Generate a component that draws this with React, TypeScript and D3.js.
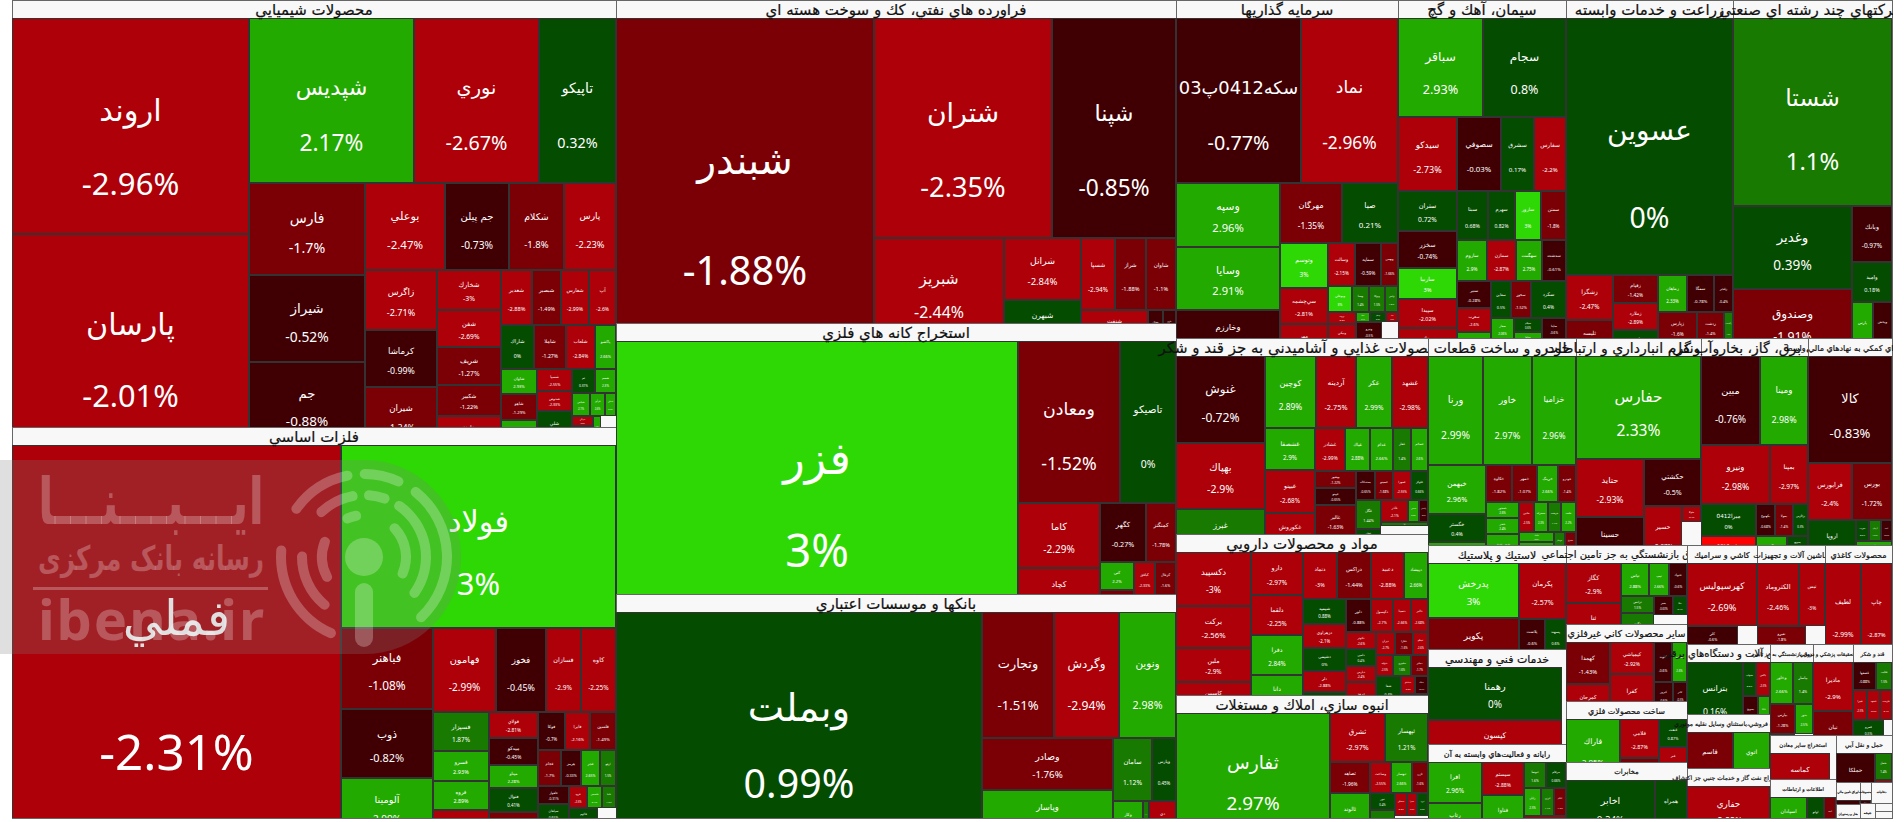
import React from 'react';
import * as d3 from 'd3';

type Row = [string, number | null, number];

const chemicals: Row[] = [
  ['اروند', -2.96, 51200], ['پارسان', -2.01, 50000],
  ['شپديس', 2.17, 27200], ['نوري', -2.67, 20600], ['تاپيكو', 0.32, 12700],
  ['فارس', -1.7, 10560], ['شيراز', -0.52, 10090], ['جم', -0.88, 9630],
  ['بوعلي', -2.47, 6880], ['جم پيلن', -0.73, 5500], ['شكلام', -1.8, 4820], ['پارس', -2.23, 4470],
  ['زاگرس', -2.71, 4260], ['كرماشا', -0.99, 4050], ['شيران', -1.24, 4120],
  ['شخارك', -3, 2560], ['شفن', -2.69, 2370], ['شريف', -1.27, 2430], ['شكبير', -1.22, 1980], ['خلوند', -2.5, 1860],
  ['شغدير', -2.88, 1730], ['شبصير', -1.49, 1560], ['شفارس', -2.99, 1560], ['آپ', -2.6, 1460],
  ['شاراك', 0, 1460], ['شاملا', -1.27, 1380], ['شلعاب', -2.84, 1290], ['پاكشو', 2.66, 900],
  ['شاوان', 2.93, 910], ['شاهو', -1.29, 910], ['شصفها', 2.5, 910],
  ['شسپا', -2.55, 800], ['شدوص', -2.33, 700], ['شلي', 0.4, 1190],
  ['ثم', 0.31, 570], ['شسم', 2.3, 520], ['شپاس', 2.1, 430],
  ['فرآور', 2.6, 340], ['شملي', 2.7, 250], ['شرنگي', -2.2, 190],
  ['كلر', 2.4, 400], ['شجم', 2.2, 250], ['', null, 420],
];
const basicMetals: Row[] = [
  ['فملي', -2.31, 128200], ['فولاد', 3, 49950],
  ['فباهنر', -1.08, 7380], ['ذوب', -0.82, 6210], ['آلومينا', 2.99, 5310],
  ['فهامون', -2.99, 5310], ['فخوز', -0.45, 4150], ['فسازان', -2.9, 3000], ['كاوه', -2.25, 2900],
  ['فسپزار', 1.87, 2200], ['فسرو', 2.93, 1650], ['فروه', 2.89, 1650], ['فسرب', -2.4, 1430],
  ['فولاي', -2.81, 1300], ['ميدكو', -0.45, 1300], ['ميناو', 2.28, 1150], ['فنوال', 0.41, 1150], ['فجهان', -1.5, 1200],
  ['فوكا', -0.7, 1010], ['فايرا', -2.16, 970], ['فلسين', -1.49, 970],
  ['فجام', -1.7, 820], ['هرمز', -0.33, 710], ['فجر', 2.65, 680], ['ارفع', 1.5, 580],
  ['فاهواز', -0.31, 560], ['سپاهان', 0.65, 560],
  ['فنرژي', 0.2, 410], ['فرود', -2.5, 390], ['فاسمين', 2.4, 310], ['فاما', 1.9, 310],
  ['فالوم', 0.6, 500], ['فزرين', -2.4, 330], ['', null, 500],
];
const refinery: Row[] = [
  ['شبندر', -1.88, 83300], ['شتران', -2.35, 39200], ['شپنا', -0.85, 27300],
  ['شبريز', -2.44, 13400], ['شرانل', -2.84, 4770], ['شبهرن', 0.5, 3160],
  ['شسپا', -2.94, 2380], ['شراز', -1.88, 2230], ['شاوان', -1.1, 2160],
  ['شنفت', -2.6, 2080], ['نفتال', -0.4, 465], ['پترو', -0.6, 400],
];
const metalMining: Row[] = [
  ['فزر', 3, 108900], ['ومعادن', -1.52, 16500], ['تاصيكو', 0, 9070],
  ['كاما', -2.29, 5330], ['كچاد', -2.5, 3600], ['كگهر', -0.27, 2710], ['كمنگنز', -1.78, 1770],
  ['كني', 2.2, 950], ['كروي', -1.5, 750], ['كبافق', -2.33, 700], ['كزغال', -1.6, 700],
  ['كروميت', -2.2, 360], ['كترام', -0.5, 354],
];
const banks: Row[] = [
  ['وبملت', 0.99, 82000], ['وتجارت', -1.51, 9070], ['وگردش', -2.94, 8200], ['ونوين', 2.98, 7180],
  ['وصادر', -1.76, 6800], ['وپاسار', 2.99, 6030], ['سامان', 1.12, 2460], ['وپارس', 0.45, 1510],
  ['وكار', 2.6, 1060], ['وسينا', 1.9, 200], ['دي', -2.4, 945],
];
const investment: Row[] = [
  ['سكه0412پ03', -0.77, 20460], ['نماد', -2.96, 16000],
  ['وسپه', 2.96, 6590], ['وسايا', 2.91, 6490], ['وخارزم', -0.6, 4740],
  ['مهرگان', -1.35, 3660], ['صبا', 0.21, 3300],
  ['وتوسم', 3, 2200], ['سي‌چشمه', -2.81, 1730], ['مهر', -2.4, 1540],
  ['وسالت', -2.15, 1120], ['سمايه', -0.59, 1120], ['وبهمن', -1.66, 730],
  ['وبوعلي', 3, 620], ['وسنا', 1.4, 420], ['وتوكا', 1.5, 420], ['وامين', 1.2, 340],
  ['ثروت', -2.2, 350], ['ونيكي', -2.6, 640],
  ['سرچشمه', -0.4, 240], ['اعتلا', 2.1, 140], ['ومعلم', 0.3, 155], ['گوهر', -2.5, 125],
  ['ونيرو', -0.5, 510], ['سبحان', 0.4, 350], ['', null, 550],
];
const cement: Row[] = [
  ['سباقر', 2.93, 8410], ['سجام', 0.8, 8220],
  ['سيدكو', -2.73, 4370], ['سصوفي', -0.03, 3260], ['سشرق', 0.17, 2500], ['سفارس', -2.2, 2370],
  ['ستران', 0.72, 2360], ['سخزر', -0.74, 2180], ['ساربيا', 3, 1830], ['سپيدا', -2.02, 1710], ['سفانو', -2.4, 1650],
  ['سبتا', 0.68, 1520], ['سهرم', 0.82, 1320], ['سارور', 3, 1270], ['سمتن', -1.8, 1220],
  ['ساروم', 2.9, 1230], ['سمازن', -2.87, 1190], ['سهگمت', 2.75, 1070], ['سدشت', -0.61, 980],
  ['سنير', -0.28, 920], ['سغرب', -2.6, 820], ['سكرما', 2.2, 820],
  ['سقاين', 0.5, 740], ['سخوز', -1.52, 740], ['سكرد', 0.4, 1300],
  ['سفار', 2.06, 510], ['ساوه', 1.5, 370],
  ['سيلام', 0.6, 390], ['سپاها', 2.8, 370], ['سكارون', -0.4, 310], ['ساينا', -0.6, 500], ['سدور', 0.3, 410],
];
const farming: Row[] = [
  ['عسوين', 0, 42900], ['زشگزا', -2.47, 2115], ['ثليسه', -1.8, 1690],
  ['زقيام', -1.42, 1260], ['زملارد', -2.89, 1215], ['زكشت', 0.4, 1170],
  ['زماهان', 2.33, 1070], ['سمگا', -0.78, 1000], ['زفجر', -0.4, 700],
  ['زپارس', -1.6, 1230], ['زشريف', -0.5, 480], ['زدشت', -1.4, 840], ['زگلدشت', 1.5, 290], ['', null, 460],
];
const multiIndustry: Row[] = [
  ['شستا', 1.1, 29900], ['وغدير', 0.39, 9880], ['وصندوق', -1.91, 7970],
  ['وبانك', -0.97, 2200], ['واميد', 0.18, 1600], ['پارس', 2.5, 1100], ['وپخش', -0.5, 1050],
];
const food: Row[] = [
  ['غنوش', -0.72, 7660], ['بهپاك', -2.9, 5800], ['غبرز', 1.5, 3780],
  ['كوچين', 2.89, 3620], ['آردينه', -2.75, 2840], ['عكر', 2.99, 2560], ['غشهد', -2.98, 2560],
  ['غشصفا', 2.9, 2110], ['غبينو', -2.68, 2110], ['غكوروش', -2.5, 1910],
  ['غشاذر', -2.99, 1290], ['غپاك', 2.88, 1080], ['غدام', 2.66, 950], ['غفار', 1.4, 770], ['غسالم', 2.6, 730],
  ['بهشهر', -1.22, 730], ['غپينو', -0.65, 660], ['غالبر', -1.63, 1300],
  ['غمينو', -2.89, 620], ['پسته‌كاله', -0.65, 560], ['غصينو', -1.68, 530], ['غمهرا', -2.55, 530],
  ['غلوكز', 0.66, 480], ['غگل', 1.44, 740], ['غشان', 0.4, 310], ['غزر', 2.2, 290], ['غاذر', -2.1, 570],
  ['غديس', 2.3, 235], ['پاكسان', -0.7, 200], ['غويتا', 1.5, 180], ['', null, 1220],
];
const auto: Row[] = [
  ['ورنا', 2.99, 5900], ['خاور', 2.97, 5200], ['خزاميا', 2.96, 4700],
  ['خبهمن', 2.96, 2800], ['خگستر', 0.4, 1620], ['خپارس', 2.3, 1180],
  ['خكاوه', -1.82, 910], ['خمهر', -1.07, 910], ['خرينگ', 2.66, 770], ['خودرو', -1.4, 630],
  ['خمحور', 2.6, 510], ['خفنر', 2.4, 510], ['خچرخش', 2.5, 930],
  ['خاذين', -2.5, 430], ['خمحركه', 2.3, 410], ['خريخت', 1.4, 400], ['خلنت', 2.2, 430],
  ['خكمك', 2.6, 340], ['ختوقا', 2.8, 730], ['خوساز', 1.2, 240], ['خشرق', -1.5, 240], ['خصدرا', -2.3, 200],
];
const transport: Row[] = [
  ['حفارس', 2.33, 12900], ['حتايد', -2.93, 3950], ['حسينا', -0.4, 3130],
  ['حكشتي', -0.5, 2680], ['حسير', -2.97, 2170], ['حتوكا', -2.4, 300], ['', null, 780],
];
const utilities: Row[] = [
  ['مبين', -0.76, 5250], ['ومينا', 2.98, 4270], ['ونيرو', -2.98, 4070], ['بمپنا', -2.97, 2240],
  ['ميرا0412', 0, 1760], ['بپاس0312', -3.4, 1490],
  ['بكهنوج', -0.68, 580], ['بمولا', -1.4, 580], ['بزاگرس', 0.3, 480],
  ['بالبر', 2.4, 830], ['بسويچ', 0.5, 350], ['', null, 210],
];
const financeAid: Row[] = [
  ['كالا', -0.83, 8900], ['فرابورس', -2.4, 2500], ['بورس', -1.72, 2260],
  ['اروپا', 0.88, 2020], ['سپرده', 0.5, 260], ['آرمان', 1.5, 240], ['اميد', -0.6, 220], ['آتيه', 2.2, 400], ['', null, 400],
];
const pharma: Row[] = [
  ['دكسپيد', -3, 3940], ['بركت', -2.56, 3070], ['ملبن', -2.9, 2480], ['كاسپين', -2.4, 2260],
  ['دارو', -2.97, 2150], ['دلقما', -2.25, 2000], ['دفرا', 2.84, 2000], ['دانا', 2.4, 1900],
  ['دتماد', -3, 1575], ['دراكس', -1.44, 1530], ['دعبيد', -2.88, 1485], ['ديپشاد', 2.66, 1080],
  ['شيميد', 0.88, 1090], ['دزهراوي', -2.1, 1000], ['دشيمي', 0, 960], ['دلر', -2.88, 920], ['دسبحا', 0.5, 880],
  ['دلور', -0.88, 830], ['دكپسول', -2.7, 700], ['دسينا', -2.66, 610], ['دالبر', -2.68, 545],
  ['دكوثر', -2.6, 500], ['دامين', 0.4, 480], ['دپارس', -2.4, 480], ['دروز', -2.6, 900],
  ['ديران', -2.7, 420], ['دفارا', -1.6, 390], ['تيپيكو', -2.6, 340], ['دتوليد', -2.5, 340],
  ['دشيري', 1.6, 350], ['دجابر', -1.7, 350], ['شفا', 0.4, 640],
  ['درازك', 2.4, 270], ['دسانكو', -2.3, 240], ['ديتاك', -0.7, 220],
  ['داوه', -1.6, 180], ['وپخش', -2.3, 170], ['دهدشت', 2.5, 150],
];
const construction: Row[] = [
  ['ثفارس', 2.97, 18700], ['ثشرق', -2.97, 2650], ['ثپهسار', 1.21, 2100],
  ['ثصاهد', -1.96, 1210], ['ثالوند', 2.6, 1680],
  ['وساخت', -2.55, 650], ['ثبهساز', 2.66, 620], ['ثاژن', -1.6, 500],
  ['ثنور', 0.4, 430], ['ثامان', 1.5, 650],
  ['ثمسكن', -2.2, 270], ['ثعمرا', -2.6, 230], ['ثرود', 0.3, 250], ['', null, 660],
];
const plastic: Row[] = [
  ['پدرخش', 3, 5000], ['پكوير', -1.8, 4500], ['پكرمان', -2.57, 2590],
  ['پلاست', -0.6, 880], ['پسهند', 0.6, 740], ['پتاير', 2.3, 640],
];
const technical: Row[] = [['رهمنا', 0, 7100], ['كيسون', -2.6, 5700], ['', null, 400]];
const computing: Row[] = [
  ['افرا', 2.96, 2210], ['رتاپ', 2.4, 1780], ['سيستم', -2.88, 1390], ['فناوا', 2.5, 1720],
  ['ثنوسا', 1.6, 570], ['مرقام', 0.66, 520], ['رايان', 2.5, 480], ['انرژي', 1.4, 360], ['اتكام', -1.5, 340], ['پرداخت', -2.4, 840],
];
const pension: Row[] = [
  ['كگاز', -2.9, 2200], ['ثنا', -2.55, 2145], ['تپاس', 2.88, 930], ['تيپ', 2.66, 690], ['حتوك', -0.6, 590],
  ['ترانس', 1.5, 580], ['تكنو', 1.2, 980], ['بفجر', -0.63, 360], ['بيكا', 0.4, 270], ['', null, 890],
];
const nonMetal: Row[] = [
  ['كهمدا', -1.43, 1850], ['كمرجان', -2.6, 1540], ['كيمياشي', -2.92, 1440], ['كفرا', -2.88, 2025],
  ['كلوند', -0.6, 720], ['كساوه', 2.6, 600], ['كپرور', -0.6, 480], ['كاذر', -0.5, 370], ['كسرا', -0.8, 370],
];
const metalGoods: Row[] = [
  ['فاراك', 2.05, 3300], ['فلامي', -2.87, 1560], ['فگستر', -1.5, 880], ['فنفت', 0.87, 780], ['فنر', -2.6, 660], ['', null, 260],
];
const telecom: Row[] = [['اخابر', 0.24, 5040], ['همراه', 0.7, 1790]];
const ceramic: Row[] = [['كهرسپوليس', -2.69, 4400], ['كلر', -0.6, 1000], ['كساپا', 1.5, 800], ['', null, 690]];
const machinery: Row[] = [['الكتروماد', -2.46, 2650], ['تبس', -3, 1640], ['تفيرو', -1.8, 970], ['تشكور', 1.4, 790], ['', null, 680]];
const paper: Row[] = [['لطيف', -2.99, 3560], ['چاپ', -2.87, 3070]];
const electricGear: Row[] = [['بترانس', 0.16, 3850], ['بشهاب', 0.5, 430], ['بالاس', -2.5, 460], ['بسويچ', -0.6, 520], ['بايكا', 2.6, 410]];
const vehicleTrade: Row[] = [['قاسم', -1.5, 2480], ['اتوي', 2.6, 1950]];
const miningServices: Row[] = [['حفاري', -2.82, 4100]];
const insurance: Row[] = [['وخاور', 2.66, 980], ['بپاسار', 1.4, 860], ['بپارس', -1.28, 760], ['بدور', 2.5, 570], ['البرز', 2.68, 480], ['', null, 360]];
const medical: Row[] = [['ماديرا', -2.9, 1920], ['نيان', -1.5, 1680]];
const sugar: Row[] = [
  ['قصفها', -0.88, 640], ['قثابت', 1.5, 450], ['قپيرا', -2.5, 420], ['قشهد', -2.6, 390], ['قلرست', -2.4, 360],
  ['قمرو', 0.5, 580], ['قهكمت', 2.4, 420], ['', null, 260],
];
const otherMining: Row[] = [['كماسه', -2.6, 2700], ['', null, 270]];
const ict: Row[] = [['اسپادان', 2.6, 1480], ['اوانو', 0.5, 660], ['اميد', -1.7, 470]];
const logistics: Row[] = [['حملكا', -0.14, 1880], ['حنقل', 1.4, 460], ['حريل', -2.4, 340]];
const leasing: Row[] = [['ولساپا', -0.6, 300], ['', null, 213]];
const hotels: Row[] = [['', null, 342]];
const textile: Row[] = [['نبروج', -0.5, 60], ['', null, 168]];
const tobacco: Row[] = [['', null, 432]];
const glass: Row[] = [['', null, 220]];
const rubber: Row[] = [['', null, 132]];
const wood: Row[] = [['', null, 128]];

const sectorNames = [
  'محصولات شيميايي', 'فلزات اساسي', 'فراورده هاي نفتي، كك و سوخت هسته اي', 'استخراج كانه هاي فلزي', 'بانكها و موسسات اعتباري',
  'سرمايه گذاريها', 'سيمان، آهك و گچ', 'زراعت و خدمات وابسته', 'شركتهاي چند رشته اي صنعتي',
  'محصولات غذايي و آشاميدني به جز قند و شكر', 'مواد و محصولات دارويي', 'انبوه سازي، املاك و مستغلات',
  'خودرو و ساخت قطعات', 'حمل ونقل، انبارداري و ارتباطات', 'عرضه برق، گاز، بخاروآب گرم', 'فعاليتهاي كمكي به نهادهاي مالي واسط',
  'لاستيك و پلاستيك', 'خدمات فني و مهندسي', 'رايانه و فعاليت‌هاي وابسته به آن',
  'صندوق بازنشستگي به جز تامين اجتماعي', 'ساير محصولات كاني غيرفلزي', 'ساخت محصولات فلزي', 'مخابرات',
  'كاشي و سراميك', 'ماشين آلات و تجهيزات', 'محصولات كاغذي',
  'ماشين آلات و دستگاه‌هاي برقي', 'خرده فروشي،باستثناي وسايل نقليه موتوري', 'استخراج نفت گاز و خدمات جنبي جز اكتشاف',
  'بيمه وصندوق بازنشستگي به جز تامين', 'مركز تحقيقات پزشكي و درماني', 'قند و شكر',
  'استخراج ساير معادن', 'اطلاعات و ارتباطات', 'حمل و نقل آبي',
  'اوراق تامين مالي', 'هتل و رستوران', 'منسوجات', 'دخانيات', 'شيشه', 'لاستيك', 'چوب',
];
const sectorSizes = [
  257908, 236164, 180880, 151760, 125440, 74698, 56784, 56446, 53742, 49196, 40411, 30873,
  30636, 25875, 22149, 17388, 14352, 13110, 10212, 9638, 9394, 7442, 6832, 6930, 6732, 6633,
  5740, 4428, 4100, 3960, 3600, 3510, 2970, 2574, 2679, 513, 342, 228, 432, 220, 132, 128,
];
const sectorRows = [
  chemicals, basicMetals, refinery, metalMining, banks, investment, cement, farming, multiIndustry,
  food, pharma, construction, auto, transport, utilities, financeAid, plastic, technical, computing,
  pension, nonMetal, metalGoods, telecom, ceramic, machinery, paper, electricGear, vehicleTrade, miningServices,
  insurance, medical, sugar, otherMining, ict, logistics, leasing, hotels, textile, tobacco, glass, rubber, wood,
];
// header font sizes, in the same order as the sectors
const titleSizes = [
  15, 15, 15, 15, 15, 15, 15, 15, 15, 15, 15, 14,
  14, 14, 14, 8, 11, 11, 8, 10, 9.5, 8, 7, 8, 8, 8,
  10, 6, 6, 5, 5, 5.5, 5.5, 5, 6, 3, 3, 3, 3, 3, 3, 3,
];

const changeBins = [-3, -2, -1, 0, 1, 2, 3];
const changeColors = ['#ff0000', '#ad0009', '#7a0006', '#400003', '#044c00', '#187a00', '#22aa00', '#2ed805'];

const W = 1880;
const H = 818;
const LEFT = 12;
const HEADER = 18;
const FONT = '"Noto Sans", "DejaVu Sans", sans-serif';
const ARABIC = '"DejaVu Sans", sans-serif';

const color = d3.scaleThreshold<number, string>().domain(changeBins).range(changeColors);

const sectorRoot = d3
  .hierarchy<any>({
    children: sectorNames.map((name, i) => ({ name, size: sectorSizes[i], rows: sectorRows[i], titleSize: titleSizes[i] })),
  })
  .sum((d) => d.size || 0);
d3.treemap<any>().size([W, H]).round(true)(sectorRoot);

function layoutRows(rows: Row[], w: number, h: number) {
  const root = d3
    .hierarchy<any>({ children: rows.map((r) => ({ name: r[0], change: r[1], size: r[2] })) })
    .sum((d) => d.size || 0);
  d3.treemap<any>().size([w, h]).round(true)(root);
  return root.leaves() as d3.HierarchyRectangularNode<any>[];
}

// logo rings of the watermark: radius and arc spans in degrees
const ringSpans: [number, [number, number][]][] = [
  [83, [[-58, -8], [-3, 28], [35, 140], [-160, -82]]],
  [62, [[-48, -6], [0, 24], [30, 130], [-145, -85]]],
  [42, [[-30, -4], [40, 120], [-125, -62]]],
];

function Watermark() {
  const cx = 364;
  const cy = 557;
  const r = 97;
  const p = d3.path();
  p.moveTo(0, cy - r);
  p.lineTo(cx, cy - r);
  p.arc(cx, cy, r, -Math.PI / 2, Math.PI / 2);
  p.lineTo(0, cy + r);
  p.closePath();
  const arc = d3.arc<any>().cornerRadius(5);
  const ink = 'rgba(255,255,255,0.25)';
  return (
    <g>
      <path d={p.toString()} fill="#808080" opacity={0.25} />
      {ringSpans.map(([radius, spans]) =>
        spans.map(([a, b], i) => (
          <path
            key={radius + '-' + i}
            transform={`translate(${cx},${cy})`}
            fill={ink}
            d={
              arc({
                innerRadius: radius - 5,
                outerRadius: radius + 5,
                startAngle: (a * Math.PI) / 180,
                endAngle: (b * Math.PI) / 180,
              }) as string
            }
          />
        ))
      )}
      <circle cx={cx} cy={cy} r={19} fill={ink} />
      <rect x={cx - 9} y={cy + 26} width={18} height={64} rx={9} fill={ink} />
      <text x={151} y={524} fill={ink} fontFamily={ARABIC} fontWeight="bold" fontSize={64} textAnchor="middle" direction="rtl" textLength={226} lengthAdjust="spacingAndGlyphs">
        ایـــبـــنـــا
      </text>
      <text x={151} y={570} fill={ink} fontFamily={ARABIC} fontWeight="bold" fontSize={34} textAnchor="middle" direction="rtl" textLength={226} lengthAdjust="spacingAndGlyphs">
        رسانه بانک مرکزی
      </text>
      <rect x={33} y={587} width={235} height={3} fill={ink} />
      <text x={151} y={640} fill={ink} fontFamily={FONT} fontWeight="bold" fontSize={56} textAnchor="middle" textLength={226}>
        ibena.ir
      </text>
    </g>
  );
}

function Sector({ node, idx }: { node: d3.HierarchyRectangularNode<any>; idx: number }) {
  const x = node.x0;
  const y = node.y0;
  const w = node.x1 - node.x0;
  const h = node.y1 - node.y0;
  const leaves = layoutRows(node.data.rows, w, h);
  const titleSize = node.data.titleSize;
  return (
    <g transform={`translate(${x},${y})`}>
      <rect x={0.5} y={0.5} width={w} height={h} fill="#f8f8f8" stroke="#666" />
      <defs>
        <clipPath id={`sec-${idx}`}>
          <rect x={0} y={HEADER} width={w} height={h - HEADER} />
        </clipPath>
      </defs>
      <g clipPath={`url(#sec-${idx})`}>
        <g transform={`translate(0,${HEADER})`}>
          {leaves.map((leaf, i) => {
            const cw = leaf.x1 - leaf.x0;
            const ch = leaf.y1 - leaf.y0;
            const { name, change } = leaf.data;
            if (change === null) return null;
            const fs = Math.min(0.125 * Math.sqrt(cw * ch), 0.17 * Math.min(cw, ch));
            // long symbols get a smaller font so they stay inside their cell
            const nameSize = Math.min(fs * 1.08, cw / (name.length * 0.7));
            const nameY = Math.max(0.47 * ch - 7, 0.38 * ch);
            const pctY = Math.max(0.82 * ch - 9, 0.72 * ch);
            return (
              <svg key={i} x={leaf.x0} y={leaf.y0} width={cw} height={ch}>
                <rect x={0.5} y={0.5} width={cw - 1} height={ch - 1} fill={color(change)} stroke="#333" />
                <text x={cw / 2} y={nameY} dy="0.28em" fill="#fff" fontSize={nameSize} fontFamily={ARABIC} textAnchor="middle" direction="rtl">
                  {name}
                </text>
                <text x={cw / 2} y={pctY} dy="0.28em" fill="#fff" fontSize={fs * 1.1} fontFamily={FONT} textAnchor="middle">
                  {change}%
                </text>
              </svg>
            );
          })}
        </g>
      </g>
      <text x={w / 2} y={HEADER * 0.55} dy="0.35em" fontSize={titleSize} fontFamily={ARABIC} fill="#111" stroke="#111" strokeWidth={0.2} textAnchor="middle" direction="rtl">
        {node.data.name}
      </text>
    </g>
  );
}

export default function App() {
  const sectors = sectorRoot.leaves() as d3.HierarchyRectangularNode<any>[];
  return (
    <svg width={1904} height={822} style={{ position: 'absolute', left: 0, top: 0, display: 'block', background: '#fff' }}>
      <defs>
        <clipPath id="chart-clip">
          <rect x={0} y={0} width={W + 1} height={H + 1} />
        </clipPath>
      </defs>
      <g transform={`translate(${LEFT},0)`} clipPath="url(#chart-clip)">
        {sectors.map((node, i) => (
          <Sector key={i} node={node} idx={i} />
        ))}
      </g>
      <Watermark />
    </svg>
  );
}
